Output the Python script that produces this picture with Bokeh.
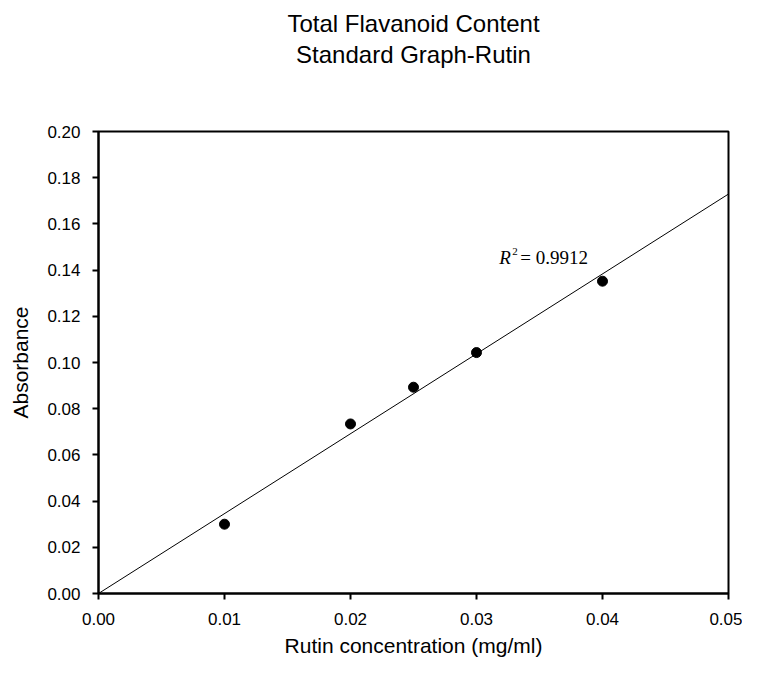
from bokeh.plotting import figure
from bokeh.models import Title, FixedTicker, PrintfTickFormatter, Range1d, Label
from bokeh.embed import file_html
from bokeh.resources import INLINE

# data
conc = [0.01, 0.02, 0.025, 0.03, 0.04]
absorb = [0.030, 0.0734, 0.0893, 0.1043, 0.1352]
x_ticks = [0.00, 0.01, 0.02, 0.03, 0.04, 0.05]
y_ticks = [0.00, 0.02, 0.04, 0.06, 0.08, 0.10, 0.12, 0.14, 0.16, 0.18, 0.20]
fit_x = [0.0, 0.05]
r2_text = "0.9912"
title_lines = ["Total Flavanoid Content", "Standard Graph-Rutin"]

# regression through origin
slope = sum(a * b for a, b in zip(conc, absorb)) / sum(a * a for a in conc)
fit_y = [slope * v for v in fit_x]

FONT = "Liberation Sans"

p = figure(width=742, height=659, output_backend="svg", toolbar_location=None,
           x_range=Range1d(0, 0.05), y_range=Range1d(0, 0.20),
           min_border_left=98, min_border_right=14, min_border_top=131, min_border_bottom=64)
p.title = None
# two blank lines below the title keep the gap above the frame
p.add_layout(Title(text="\n".join(title_lines + [" ", " "]), align="center", text_align="center",
                   vertical_align="top", text_font=FONT, text_font_size="24px",
                   text_font_style="normal", text_color="#000000",
                   text_line_height=1.15, standoff=0), "above")

p.grid.visible = False
p.outline_line_color = "black"
p.outline_line_width = 2
p.background_fill_color = "white"
p.border_fill_color = "white"

for ax in (p.xaxis[0], p.yaxis[0]):
    ax.axis_line_color = "black"
    ax.axis_line_width = 2
    ax.major_tick_line_color = "black"
    ax.major_tick_line_width = 2
    ax.major_tick_out = 6
    ax.major_tick_in = 0
    ax.minor_tick_line_color = None
    ax.major_label_text_font = FONT
    ax.major_label_text_font_size = "17px"
    ax.major_label_text_color = "black"
    ax.axis_label_text_font = FONT
    ax.axis_label_text_font_size = "21px"
    ax.axis_label_text_font_style = "normal"
    ax.axis_label_text_color = "black"
    ax.formatter = PrintfTickFormatter(format="%.2f")

p.xaxis[0].ticker = FixedTicker(ticks=x_ticks)
p.yaxis[0].ticker = FixedTicker(ticks=y_ticks)
p.xaxis[0].axis_label = "Rutin concentration (mg/ml)"
p.yaxis[0].axis_label = "Absorbance"
p.xaxis[0].major_label_standoff = 13
p.yaxis[0].major_label_standoff = 12
p.xaxis[0].axis_label_standoff = 6
p.yaxis[0].axis_label_standoff = 12

p.line(fit_x, fit_y, line_color="black", line_width=1)
p.scatter(conc, absorb, size=10, fill_color="black", line_color="black")

lx, ly = 0.0318, 0.1455
p.add_layout(Label(x=lx, y=ly, text="R", text_font="Liberation Serif", text_font_style="italic",
                   text_font_size="19px", text_baseline="middle", text_color="black"))
p.add_layout(Label(x=lx, y=ly, x_offset=13, y_offset=6, text="2", text_font="Liberation Serif",
                   text_font_size="11px", text_baseline="middle", text_color="black"))
p.add_layout(Label(x=lx, y=ly, x_offset=21, text="= " + r2_text, text_font="Liberation Serif",
                   text_font_size="19px", text_baseline="middle", text_color="black"))

open("out.html", "w").write(file_html(p, INLINE))
